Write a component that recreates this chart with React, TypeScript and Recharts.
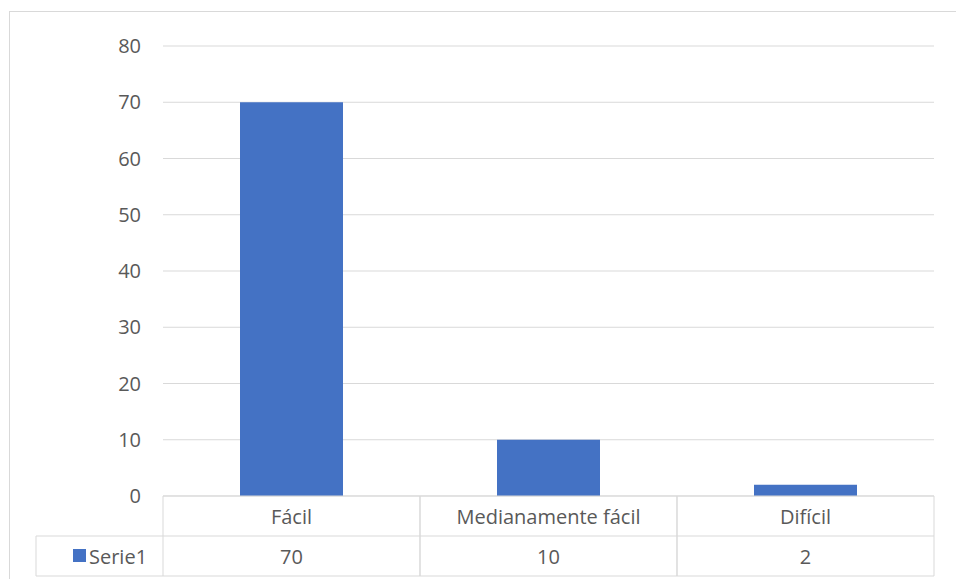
import React from 'react';
import { BarChart, Bar, XAxis, YAxis, CartesianGrid } from 'recharts';

const categories = ['Fácil', 'Medianamente fácil', 'Difícil'];
const serie1 = [70, 10, 2];
const yTicks = [0, 10, 20, 30, 40, 50, 60, 70, 80];
const seriesName = 'Serie1';

const data = categories.map((c, i) => ({ name: c, value: serie1[i] }));

const W = 956;
const H = 579;
const margin = { top: 46, right: 22, bottom: 3, left: 103 };
const yAxisWidth = 60;
const plotW = W - margin.left - yAxisWidth - margin.right;
const band = plotW / categories.length;
const ROW = 40;
const FONT = "'Open Sans', 'Noto Sans', sans-serif";
const FS = 20;
const GRID = '#d9d9d9';
const TEXT = '#595959';
const BLUE = '#4472C4';

const TableTick = (props: any) => {
  const { x, y, payload, index } = props;
  const top = y;
  const left = x - band / 2;
  const right = x + band / 2;
  return (
    <g>
      <line x1={left} y1={top} x2={left} y2={top + ROW * 2} stroke={GRID} />
      <line x1={right} y1={top} x2={right} y2={top + ROW * 2} stroke={GRID} />
      <line x1={left} y1={top + ROW} x2={right} y2={top + ROW} stroke={GRID} />
      <line x1={left} y1={top + ROW * 2} x2={right} y2={top + ROW * 2} stroke={GRID} />
      <text x={x} y={top + ROW / 2} textAnchor="middle" dominantBaseline="central" fill={TEXT} fontSize={FS} fontFamily={FONT}>
        {payload.value}
      </text>
      <text x={x} y={top + ROW * 1.5} textAnchor="middle" dominantBaseline="central" fill={TEXT} fontSize={FS} fontFamily={FONT}>
        {serie1[index]}
      </text>
      {index === 0 && (
        <g>
          <line x1={36} y1={top + ROW} x2={left} y2={top + ROW} stroke={GRID} />
          <line x1={36} y1={top + ROW * 2} x2={left} y2={top + ROW * 2} stroke={GRID} />
          <line x1={36} y1={top + ROW} x2={36} y2={top + ROW * 2} stroke={GRID} />
          <rect x={73} y={top + ROW * 1.5 - 7} width={13} height={13} fill={BLUE} />
          <text x={89} y={top + ROW * 1.5} dominantBaseline="central" fill={TEXT} fontSize={FS} fontFamily={FONT}>
            {seriesName}
          </text>
        </g>
      )}
    </g>
  );
};

export default function App() {
  return (
    <div style={{ position: 'absolute', left: 0, top: 0, width: W, height: H, background: '#fff', overflow: 'hidden' }}>
      <div style={{ position: 'absolute', left: 9, top: 11, width: 960, height: 580, border: `1px solid ${GRID}`, boxSizing: 'border-box' }} />
      <BarChart width={W} height={H} data={data} margin={margin} barCategoryGap="30%">
        <CartesianGrid stroke={GRID} vertical={false} />
        <XAxis
          dataKey="name"
          axisLine={{ stroke: GRID }}
          tickLine={false}
          tickSize={0}
          tickMargin={0}
          interval={0}
          height={80}
          tick={<TableTick />}
        />
        <YAxis
          width={yAxisWidth}
          domain={[0, 80]}
          ticks={yTicks}
          axisLine={false}
          tickLine={false}
          tickSize={0}
          tickMargin={22}
          tick={{ fill: TEXT, fontSize: FS, fontFamily: FONT }}
        />
        <Bar dataKey="value" fill={BLUE} isAnimationActive={false} barSize={103} />
      </BarChart>
    </div>
  );
}
